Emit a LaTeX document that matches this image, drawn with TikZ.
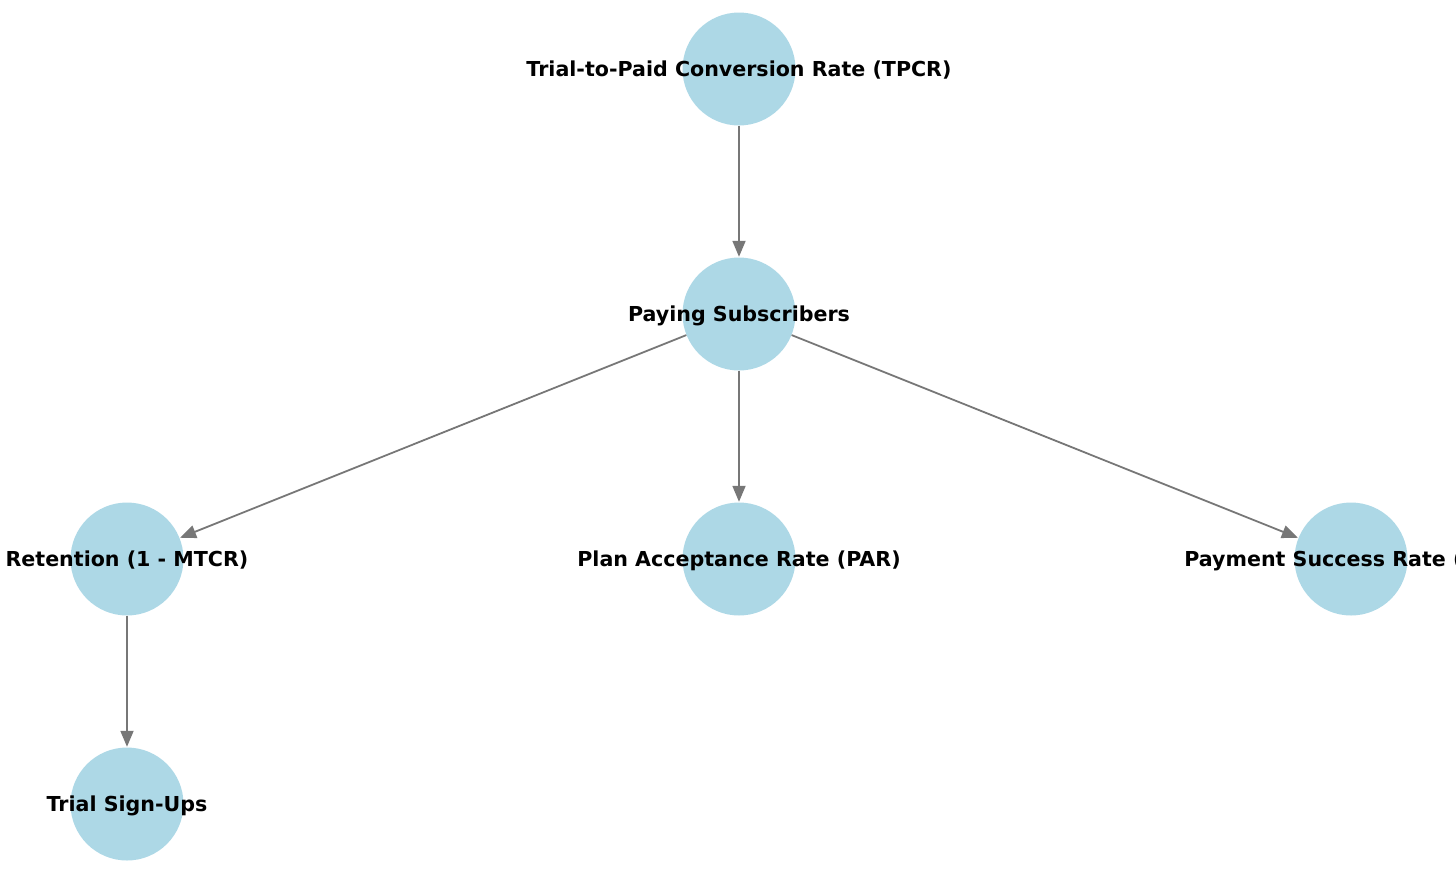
\documentclass[tikz,border=0pt]{standalone}
\usepackage{fontspec}
\setmainfont{DejaVu Sans}
\usetikzlibrary{arrows.meta}
\definecolor{nodefill}{HTML}{ADD8E6}
\definecolor{edgecol}{RGB}{119,119,119}
\begin{document}
\begin{tikzpicture}[x=1pt,y=-1pt,
  metric/.style={circle,fill=nodefill,draw=none,minimum size=113pt,inner sep=0pt},
  lbl/.style={font=\fontsize{20.6}{24}\selectfont\bfseries,text=black,inner sep=0pt,yshift=-1.5pt},
  link/.style={draw=edgecol,line width=1.8pt,-{Triangle[length=16pt,width=13pt]},shorten >=0.5pt}]
\useasboundingbox (0,0) rectangle (1456,879);
\clip (0,0) rectangle (1456,879);
\node[metric] (tpcr) at (739,69) {};
\node[metric] (pay) at (739,314) {};
\node[metric] (ret) at (127,559) {};
\node[metric] (par) at (739,559) {};
\node[metric] (psr) at (1351,559) {};
\node[metric] (trial) at (127,804) {};
\draw[link] (tpcr) -- (pay);
\draw[link] (pay) -- (ret);
\draw[link] (pay) -- (par);
\draw[link] (pay) -- (psr);
\draw[link] (ret) -- (trial);
\node[lbl] (tl1) at (tpcr.center) {Trial-to-Paid Conversion Rate (TPCR)};
\node[lbl] (tl2) at (pay.center) {Paying Subscribers};
\node[lbl] (tl3) at (ret.center) {Retention (1 - MTCR)};
\node[lbl] (tl4) at (par.center) {Plan Acceptance Rate (PAR)};
\node[lbl] (tl5) at (psr.center) {Payment Success Rate (PSR)};
\node[lbl] (tl6) at (trial.center) {Trial Sign-Ups};
\end{tikzpicture}
\end{document}
